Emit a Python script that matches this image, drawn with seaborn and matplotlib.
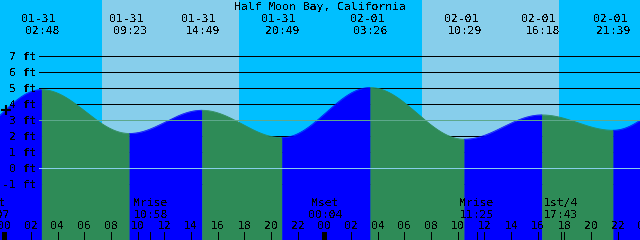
import numpy as np
import pandas as pd
import matplotlib
matplotlib.use("Agg")
import matplotlib.pyplot as plt
import seaborn as sns

# ---------------- data ----------------
title = "Half Moon Bay, California"
# tide extremes (hours since 01-31 00:00), first and last lie off the chart
tide_dates = ["01-30", "01-31", "01-31", "01-31", "01-31", "02-01", "02-01", "02-01", "02-01", "02-02"]
tide_times = ["20:36", "02:48", "09:23", "14:49", "20:49", "03:26", "10:29", "16:18", "21:39", "04:05"]
tide_hours = [-3.40, 2.80, 9.383, 14.817, 20.817, 27.433, 34.483, 40.30, 45.65, 52.083]
tide_heights = [1.74, 4.92, 2.18, 3.63, 1.92, 5.05, 1.82, 3.34, 2.38, 5.18]

# sun: daylight intervals (hours)
sunrise_hours = [7.33, 31.32]
sunset_hours = [17.60, 41.59]

# moon / phase events
event_names = ["Mset", "Mrise", "Mset", "Mrise", "1st/4"]
event_times = ["23:07", "10:58", "00:04", "11:25", "17:43"]
event_hours = [-0.883, 10.967, 24.067, 35.417, 41.717]

level_ft = [-1, 0, 1, 2, 3, 4, 5, 6, 7]
tick_hours = list(range(0, 49, 2))

# ---------------- geometry (pixel mapping) ----------------
X0, XS = 4.2, 13.34      # px of hour 0, px per hour
Y0, YS = 168.3, 16.0     # px of 0 ft, px per foot
W, H = 640, 240

def px2h(xp):
    return (xp - X0) / XS

def py2v(yp):
    return (Y0 - yp) / YS

sns.set_theme(style="white")
plt.rcParams["font.family"] = ["DejaVu Sans Mono", "DejaVu Sans"]
plt.rcParams["text.antialiased"] = False
plt.rcParams["text.color"] = "black"
FS = 8.2
LW1 = 0.72  # one pixel

fig = plt.figure(figsize=(6.4, 2.4), dpi=100)
ax = fig.add_axes([0, 0, 1, 1])

NIGHT, DAY = "#00BFFF", "#87CEEB"
BLUE, GREEN = "#0000FF", "#2E8B57"

ax.axvspan(px2h(-10), px2h(W + 10), color=NIGHT, lw=0, zorder=0)
for a, b in zip(sunrise_hours, sunset_hours):
    ax.axvspan(a, b, color=DAY, lw=0, zorder=0.5)

# black level lines (behind the tide)
xl0 = px2h(39)
for v in level_ft:
    ax.plot([xl0, px2h(W)], [v, v], color="black", lw=LW1, zorder=1,
            solid_capstyle="butt", antialiased=False)

# tide curve: cosine between successive extremes
rows = []
for i in range(len(tide_hours) - 1):
    ta, tb = tide_hours[i], tide_hours[i + 1]
    a, b = tide_heights[i], tide_heights[i + 1]
    t = np.linspace(ta, tb, 200)
    v = a + (b - a) * (1 - np.cos(np.pi * (t - ta) / (tb - ta))) / 2
    for tt, vv in zip(t, v):
        rows.append((tt, vv, i, "rise" if b > a else "fall"))
df = pd.DataFrame(rows, columns=["hour", "height", "seg", "kind"])

bottom = py2v(H + 5)
for seg, g in df.groupby("seg"):
    col = BLUE if g["kind"].iloc[0] == "rise" else GREEN
    ax.fill_between(g["hour"], g["height"], bottom, color=col, lw=0.3, edgecolor=col,
                    zorder=2, antialiased=False)

pal = {s: (BLUE if k == "rise" else GREEN) for s, k in df.groupby("seg")["kind"].first().items()}
sns.lineplot(data=df, x="hour", y="height", hue="seg", palette=pal, legend=False,
             estimator=None, sort=False, lw=0.5, ax=ax, zorder=3)
ax.set_xlim(px2h(0), px2h(W))
ax.set_ylim(py2v(H), py2v(0))
ax.set_axis_off()

# datum lines above the tide
ax.plot([xl0, px2h(W)], [3, 3], color="#5DA88C", lw=LW1, zorder=4, antialiased=False)
ax.plot([xl0, px2h(W)], [0, 0], color=DAY, lw=LW1, zorder=4, antialiased=False)

# y labels
for v in level_ft:
    ax.text(px2h(36.5), py2v(Y0 - YS * v + 4), f"{v} ft", ha="right", va="baseline",
            fontsize=FS, color="black", zorder=6)

# title
ax.text(px2h(320), py2v(10), title, ha="center", va="baseline", fontsize=FS, color="black", zorder=6)

# tide event labels at top (only those that reach into the picture)
for d, tm, hr in zip(tide_dates, tide_times, tide_hours):
    xp = X0 + XS * hr
    if xp < -15 or xp > W + 15:
        continue
    ax.text(px2h(xp - 3.2), py2v(22), d, ha="center", va="baseline", fontsize=FS, color="black", zorder=6)
    ax.text(px2h(xp + 0.6), py2v(34), tm, ha="center", va="baseline", fontsize=FS, color="black", zorder=6)

# moon events at bottom
for nm, tm, hr in zip(event_names, event_times, event_hours):
    ax.text(hr, py2v(206), nm, ha="center", va="baseline", fontsize=FS, color="black", zorder=6)
    ax.text(hr, py2v(217.7), tm, ha="center", va="baseline", fontsize=FS, color="black", zorder=6)
    ax.plot([hr, hr], [py2v(232), py2v(H)], color="black", lw=LW1, zorder=6,
            solid_capstyle="butt", antialiased=False)

# hour ticks
for hr in tick_hours:
    ax.text(hr, py2v(229.3), f"{hr % 24:02d}", ha="center", va="baseline", fontsize=FS,
            color="black", zorder=6)
    lw = 2.2 if hr % 24 == 0 else LW1
    ax.plot([hr, hr], [py2v(232), py2v(H)], color="black", lw=lw, zorder=6,
            solid_capstyle="butt", antialiased=False)

# current level mark
ax.plot([px2h(6)], [py2v(110)], marker="+", color="black", ms=7, mew=1.5, zorder=7)

fig.savefig("out.png", dpi=100)
